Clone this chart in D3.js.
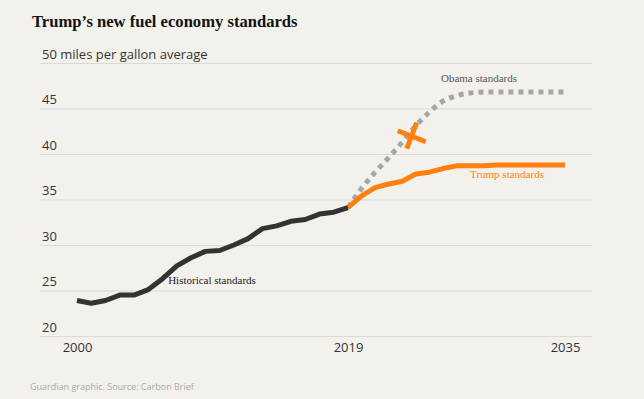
<!DOCTYPE html>
<html>
<head>
<meta charset="utf-8">
<script src="https://cdn.jsdelivr.net/npm/d3@7"></script>
<style>
  html, body { margin: 0; padding: 0; background: #f3f1eb; }
  svg { display: block; }
</style>
</head>
<body>
<svg id="chart" width="644" height="399"></svg>
<script>
// historical fleet average, mpg
const histYears = [2000, 2001, 2002, 2003, 2004, 2005, 2006, 2007, 2008, 2009,
                   2010, 2011, 2012, 2013, 2014, 2015, 2016, 2017, 2018, 2019];
const histMpg = [23.9, 23.6, 23.9, 24.5, 24.5, 25.1, 26.3, 27.7, 28.6, 29.3,
                 29.4, 30.0, 30.7, 31.8, 32.1, 32.6, 32.8, 33.4, 33.6, 34.1];

// projections
const projYears = [2019, 2020, 2021, 2022, 2023, 2024, 2025, 2026, 2027,
                   2028, 2029, 2030, 2031, 2032, 2033, 2034, 2035];
const obamaMpg = [34.1, 36.2, 38.0, 39.6, 41.3, 43.1, 44.6, 45.8, 46.4,
                  46.7, 46.8, 46.8, 46.8, 46.8, 46.8, 46.8, 46.8];
const trumpMpg = [34.1, 35.4, 36.3, 36.7, 37.0, 37.8, 38.0, 38.4, 38.7,
                  38.7, 38.7, 38.8, 38.8, 38.8, 38.8, 38.8, 38.8];

const yTicks = [20, 25, 30, 35, 40, 45, 50];
const xTicks = [2000, 2019, 2035];
const crossMark = { year: 2023.7, mpg: 41.9 };

const svg = d3.select('#chart');

const ORANGE = '#ff7f0f';
const GRID_LEFT = 40;
const GRID_RIGHT = 592;

// x axis is a bit compressed after 2019
const x = d3.scaleLinear().domain([2000, 2019, 2035]).range([77, 348, 565]);
const y = d3.scaleLinear().domain([20, 50]).range([336, 63]);

svg.append('text')
    .attr('x', 32)
    .attr('y', 27)
    .attr('font-family', '"Liberation Serif", serif')
    .attr('font-weight', 700)
    .attr('font-size', 16.6)
    .attr('fill', '#121212')
    .text('Trump\u2019s new fuel economy standards');

// gridlines + y labels
const yAxis = svg.append('g')
    .attr('transform', `translate(${GRID_LEFT},0)`)
    .call(d3.axisRight(y)
        .tickValues(yTicks)
        .tickSize(GRID_RIGHT - GRID_LEFT)
        .tickFormat(d => d === 50 ? '50 miles per gallon average' : d));
yAxis.select('.domain').remove();
yAxis.selectAll('.tick line')
    .attr('stroke', '#dcdad4')
    .attr('stroke-width', 1.2);
yAxis.selectAll('.tick text')
    .attr('x', 2)
    .attr('dy', -5)
    .attr('text-anchor', 'start')
    .attr('font-family', '"Open Sans", sans-serif')
    .attr('font-size', 13)
    .attr('fill', '#333');

// x labels
const xAxis = svg.append('g')
    .attr('transform', 'translate(0,336)')
    .call(d3.axisBottom(x).tickValues(xTicks).tickSize(0).tickFormat(d3.format('d')));
xAxis.select('.domain').remove();
xAxis.selectAll('.tick text')
    .attr('y', 16)
    .attr('dy', 0)
    .attr('font-family', '"Open Sans", sans-serif')
    .attr('font-size', 13)
    .attr('fill', '#333');

const hist = histYears.map((yr, i) => ({ year: yr, mpg: histMpg[i] }));
const obama = projYears.map((yr, i) => ({ year: yr, mpg: obamaMpg[i] }));
const trump = projYears.map((yr, i) => ({ year: yr, mpg: trumpMpg[i] }));

const line = d3.line().x(d => x(d.year)).y(d => y(d.mpg));

svg.append('path')
    .datum(obama)
    .attr('d', line.curve(d3.curveMonotoneX))
    .attr('fill', 'none')
    .attr('stroke', '#a6a6a6')
    .attr('stroke-width', 5)
    .attr('stroke-dasharray', '5,5');

svg.append('path')
    .datum(trump)
    .attr('d', line.curve(d3.curveLinear))
    .attr('fill', 'none')
    .attr('stroke', ORANGE)
    .attr('stroke-width', 5)
    .attr('stroke-linejoin', 'round');

svg.append('path')
    .datum(hist)
    .attr('d', line.curve(d3.curveLinear))
    .attr('fill', 'none')
    .attr('stroke', '#333')
    .attr('stroke-width', 5)
    .attr('stroke-linejoin', 'round');

// cross over the Obama curve
const cx = x(crossMark.year);
const cy = y(crossMark.mpg);
svg.append('line')
    .attr('x1', cx - 14).attr('y1', cy - 6)
    .attr('x2', cx + 14).attr('y2', cy + 5)
    .attr('stroke', ORANGE).attr('stroke-width', 5);
svg.append('line')
    .attr('x1', cx + 5).attr('y1', cy - 14)
    .attr('x2', cx - 5).attr('y2', cy + 12)
    .attr('stroke', ORANGE).attr('stroke-width', 5);

// series labels
const labels = [
    { text: 'Obama standards', x: 479, y: 82, fill: '#555' },
    { text: 'Trump standards', x: 507, y: 178, fill: ORANGE },
    { text: 'Historical standards', x: 212, y: 284, fill: '#222' },
];
svg.selectAll('.series-label')
    .data(labels)
    .join('text')
    .attr('class', 'series-label')
    .attr('x', d => d.x)
    .attr('y', d => d.y)
    .attr('text-anchor', 'middle')
    .attr('font-family', '"Liberation Serif", serif')
    .attr('font-size', 11)
    .attr('fill', d => d.fill)
    .text(d => d.text);

svg.append('text')
    .attr('x', 30)
    .attr('y', 390)
    .attr('font-family', '"Open Sans", sans-serif')
    .attr('font-size', 9)
    .attr('fill', '#aaa')
    .text('Guardian graphic. Source: Carbon Brief');
</script>
</body>
</html>
